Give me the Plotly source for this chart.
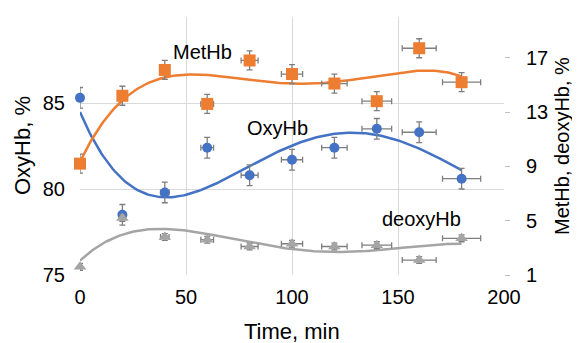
import numpy as np
import plotly.graph_objects as go

time_min = [0, 20, 40, 60, 80, 100, 120, 140, 160, 180]
time_err = [0, 1, 2, 3, 4, 5, 6, 7, 8, 9]
oxyhb = [85.3, 78.5, 79.8, 82.4, 80.8, 81.7, 82.4, 83.5, 83.3, 80.6]
oxyhb_err = [0.6] * 10
methb = [9.2, 14.2, 16.1, 13.6, 16.8, 15.8, 15.1, 13.8, 17.7, 15.2]
methb_err = [0.7] * 10
deoxyhb = [1.6, 5.2, 3.8, 3.6, 3.1, 3.3, 3.1, 3.2, 2.1, 3.7]
deoxyhb_err = [0.25] * 10

BLUE = "#4472C4"
ORANGE = "#ED7D31"
GREY = "#A5A5A5"
ERR = "#7F7F7F"
FONT = "Liberation Sans, Arial, sans-serif"

tt = np.linspace(0, 180, 200)
def trend(y, deg):
    c = np.polyfit(time_min, y, deg)
    return np.polyval(c, tt)

fig = go.Figure()

def err(vals):
    return dict(type="data", array=vals, color=ERR, thickness=1.3, width=3)

# trend lines
fig.add_trace(go.Scatter(x=tt, y=trend(oxyhb, 4), mode="lines",
                         line=dict(color=BLUE, width=2.5), yaxis="y", showlegend=False, hoverinfo="skip"))
fig.add_trace(go.Scatter(x=tt, y=trend(methb, 4), mode="lines",
                         line=dict(color=ORANGE, width=2.5), yaxis="y2", showlegend=False, hoverinfo="skip"))
fig.add_trace(go.Scatter(x=tt, y=trend(deoxyhb, 4), mode="lines",
                         line=dict(color=GREY, width=2.5), yaxis="y2", showlegend=False, hoverinfo="skip"))

# points
fig.add_trace(go.Scatter(x=time_min, y=oxyhb, mode="markers", name="OxyHb", cliponaxis=False,
                         marker=dict(symbol="circle", size=10, color=BLUE),
                         error_x=err(time_err), error_y=err(oxyhb_err), yaxis="y", showlegend=False))
fig.add_trace(go.Scatter(x=time_min, y=methb, mode="markers", name="MetHb", cliponaxis=False,
                         marker=dict(symbol="square", size=12, color=ORANGE),
                         error_x=err(time_err), error_y=err(methb_err), yaxis="y2", showlegend=False))
fig.add_trace(go.Scatter(x=time_min, y=deoxyhb, mode="markers", name="deoxyHb", cliponaxis=False,
                         marker=dict(symbol="triangle-up", size=11, color=GREY),
                         error_x=err(time_err), error_y=err(deoxyhb_err), yaxis="y2", showlegend=False))

lbl = dict(size=20, color="black", family=FONT)
fig.add_annotation(x=58, y=87.97, xref="x", yref="y", text="MetHb", showarrow=False, font=lbl)
fig.add_annotation(x=93, y=83.55, xref="x", yref="y", text="OxyHb", showarrow=False, font=lbl)
fig.add_annotation(x=161, y=78.26, xref="x", yref="y", text="deoxyHb", showarrow=False, font=lbl)

# axis titles
fig.add_annotation(x=0, y=0.5, xref="paper", yref="paper", xshift=-58, text="OxyHb, %",
                   xanchor="center", yanchor="middle",
                   textangle=-90, showarrow=False, font=dict(size=22, family=FONT, color="black"))
fig.add_annotation(x=1, y=0.5, xref="paper", yref="paper", xshift=58, text="MetHb, deoxyHb, %",
                   xanchor="center", yanchor="middle",
                   textangle=-90, showarrow=False, font=dict(size=20, family=FONT, color="black"))
fig.add_annotation(x=0.5, y=0, xref="paper", yref="paper", yshift=-56, text="Time, min",
                   xanchor="center", yanchor="middle",
                   showarrow=False, font=dict(size=22, family=FONT, color="black"))

# page body has an 8px default margin, so the figure is offset by 8px
fig.update_layout(
    width=572, height=335,
    margin=dict(l=72, r=76, t=9, b=68, autoexpand=False),
    paper_bgcolor="white", plot_bgcolor="white",
    font=dict(family=FONT, size=20, color="black"),
    xaxis=dict(range=[0, 200], dtick=50, showgrid=True, gridcolor="#D9D9D9", gridwidth=1,
               zeroline=False, showline=False, ticks="", ticklabelstandoff=8, automargin=False),
    yaxis=dict(range=[75, 90], dtick=5, showgrid=True, gridcolor="#D9D9D9", gridwidth=1,
               zeroline=False, showline=False, ticks="", ticklabelstandoff=14, automargin=False),
    yaxis2=dict(range=[1, 20], tickvals=[1, 5, 9, 13, 17], overlaying="y", side="right",
                showgrid=False, zeroline=False, showline=False, ticks="outside", ticklen=5,
                tickcolor="#BFBFBF", ticklabelstandoff=12, automargin=False),
)

fig.write_html("out.html")
